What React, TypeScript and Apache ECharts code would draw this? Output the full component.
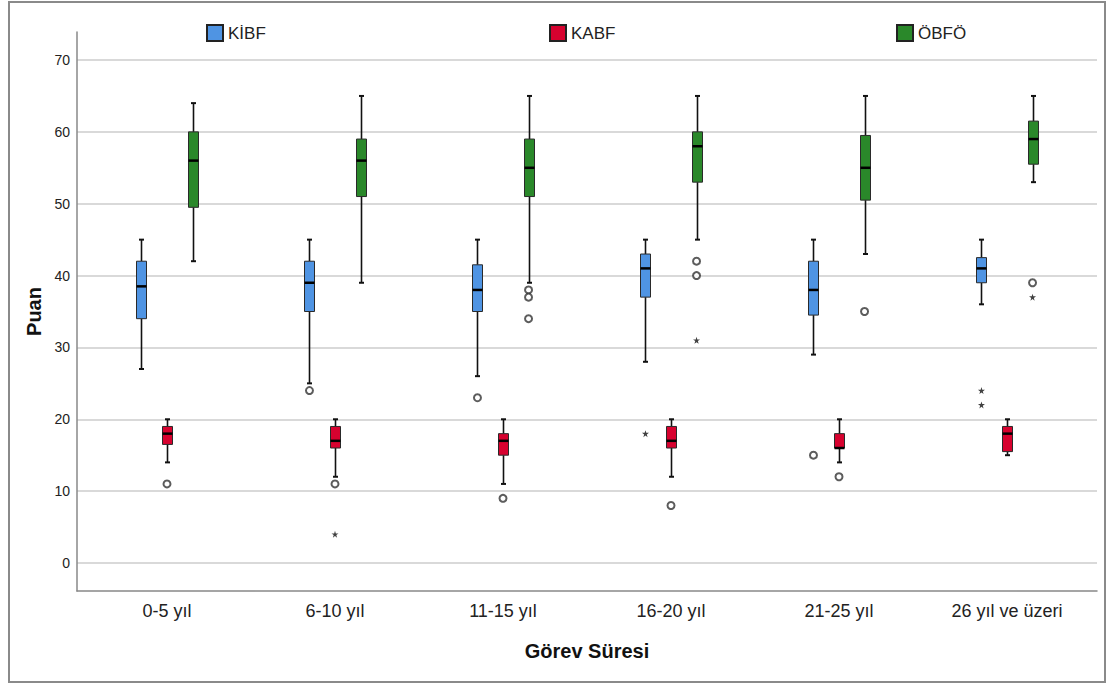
import React, { useEffect, useRef } from "react";
import * as echarts from "echarts";

const categories = ["0-5 yıl", "6-10 yıl", "11-15 yıl", "16-20 yıl", "21-25 yıl", "26 yıl ve üzeri"];
const yTicks = [0, 10, 20, 30, 40, 50, 60, 70];
const seriesNames = ["KİBF", "KABF", "ÖBFÖ"];
const seriesColors = ["#4f94e3", "#d7022f", "#2a882a"];

// [category index, min, q1, median, q3, max]
const kibfBoxes = [
  [0, 27, 34, 38.5, 42, 45],
  [1, 25, 35, 39, 42, 45],
  [2, 26, 35, 38, 41.5, 45],
  [3, 28, 37, 41, 43, 45],
  [4, 29, 34.5, 38, 42, 45],
  [5, 36, 39, 41, 42.5, 45],
];
const kabfBoxes = [
  [0, 14, 16.5, 18, 19, 20],
  [1, 12, 16, 17, 19, 20],
  [2, 11, 15, 17, 18, 20],
  [3, 12, 16, 17, 19, 20],
  [4, 14, 16, 16, 18, 20],
  [5, 15, 15.5, 18, 19, 20],
];
const obfoBoxes = [
  [0, 42, 49.5, 56, 60, 64],
  [1, 39, 51, 56, 59, 65],
  [2, 39, 51, 55, 59, 65],
  [3, 45, 53, 58, 60, 65],
  [4, 43, 50.5, 55, 59.5, 65],
  [5, 53, 55.5, 59, 61.5, 65],
];

// [category index, value]
const kibfOutliers = [[1, 24], [2, 23], [4, 15]];
const kibfExtremes = [[3, 18], [5, 24], [5, 22]];
const kabfOutliers = [[0, 11], [1, 11], [2, 9], [3, 8], [4, 12]];
const kabfExtremes = [[1, 4]];
const obfoOutliers = [[2, 38], [2, 37], [2, 34], [3, 42], [3, 40], [4, 35], [5, 39]];
const obfoExtremes = [[3, 31], [5, 37]];

const boxSets = [kibfBoxes, kabfBoxes, obfoBoxes];
const outlierSets = [kibfOutliers, kabfOutliers, obfoOutliers];
const extremeSets = [kibfExtremes, kabfExtremes, obfoExtremes];

const groupOffsets = [-0.152, 0, 0.152];
const legendLefts = [206, 549, 896];

const STAR = "path://M50,0 L61,35 L98,35 L68,57 L79,91 L50,70 L21,91 L32,57 L2,35 L39,35 Z";

export default function App() {
  const ref = useRef<HTMLDivElement>(null);

  useEffect(() => {
    if (!ref.current) return;
    const chart = echarts.init(ref.current, undefined, { renderer: "svg" });

    const boxSeries = boxSets.map((set, gi) => ({
      name: seriesNames[gi],
      type: "custom",
      itemStyle: { color: seriesColors[gi], borderColor: "#222", borderWidth: 1 },
      encode: { x: 0, y: [1, 2, 3, 4, 5] },
      data: set,
      z: 3,
      renderItem: (params: any, api: any) => {
        const x = api.value(0) + groupOffsets[gi];
        const pMin = api.coord([x, api.value(1)]);
        const pQ1 = api.coord([x, api.value(2)]);
        const pMed = api.coord([x, api.value(3)]);
        const pQ3 = api.coord([x, api.value(4)]);
        const pMax = api.coord([x, api.value(5)]);
        const cx = Math.round(pMed[0]) + 0.5;
        const hw = 5;
        const cap = 2.5;
        const wStyle = { stroke: "#111", lineWidth: 1.6 };
        return {
          type: "group",
          children: [
            { type: "line", shape: { x1: cx, y1: pMax[1], x2: cx, y2: pQ3[1] }, style: wStyle },
            { type: "line", shape: { x1: cx, y1: pQ1[1], x2: cx, y2: pMin[1] }, style: wStyle },
            { type: "line", shape: { x1: cx - cap, y1: pMax[1], x2: cx + cap, y2: pMax[1] }, style: { stroke: "#111", lineWidth: 2 } },
            { type: "line", shape: { x1: cx - cap, y1: pMin[1], x2: cx + cap, y2: pMin[1] }, style: { stroke: "#111", lineWidth: 2 } },
            {
              type: "rect",
              shape: { x: cx - hw, y: pQ3[1], width: hw * 2, height: pQ1[1] - pQ3[1] },
              style: { fill: seriesColors[gi], stroke: "#2a2a2a", lineWidth: 1 },
            },
            { type: "line", shape: { x1: cx - hw, y1: pMed[1], x2: cx + hw, y2: pMed[1] }, style: { stroke: "#000", lineWidth: 2.5 } },
          ],
        };
      },
    }));

    const outlierSeries = outlierSets.map((set, gi) => ({
      name: seriesNames[gi] + " aykırı",
      type: "scatter",
      symbol: "emptyCircle",
      symbolSize: 7,
      itemStyle: { color: "#333", borderColor: "#333", borderWidth: 1.4 },
      data: set.map((d) => [d[0] + groupOffsets[gi], d[1]]),
      z: 4,
    }));

    const extremeSeries = extremeSets.map((set, gi) => ({
      name: seriesNames[gi] + " uç",
      type: "scatter",
      symbol: STAR,
      symbolSize: 7,
      itemStyle: { color: "#111" },
      data: set.map((d) => [d[0] + groupOffsets[gi], d[1]]),
      z: 4,
    }));

    chart.setOption({
      animation: false,
      backgroundColor: "#ffffff",
      textStyle: { fontFamily: "Liberation Sans, Arial, sans-serif" },
      legend: seriesNames.map((n, i) => ({
        data: [{ name: n, icon: "rect" }],
        left: legendLefts[i],
        top: 24,
        padding: 0,
        itemWidth: 16,
        itemHeight: 16,
        selectedMode: false,
        textStyle: { fontSize: 17, color: "#222", fontFamily: "Liberation Sans, Arial, sans-serif" },
      })),
      grid: { left: 77, right: 10, top: 32, bottom: 93 },
      xAxis: {
        type: "value",
        min: -0.5357,
        max: 5.5357,
        name: "Görev Süresi",
        nameLocation: "middle",
        nameGap: 50,
        nameTextStyle: { fontSize: 20, fontWeight: "bold", color: "#111" },
        axisLine: { onZero: false, lineStyle: { color: "#888", width: 1.5 } },
        axisTick: { show: false },
        splitLine: { show: false },
        axisLabel: {
          customValues: categories.map((_, i) => i),
          formatter: (v: number) => categories[Math.round(v)] ?? "",
          fontSize: 18,
          color: "#222",
          margin: 11,
        },
      },
      yAxis: {
        type: "value",
        min: -3.9,
        max: 73.9,
        name: "Puan",
        nameLocation: "middle",
        nameGap: 33,
        nameTextStyle: { fontSize: 20, fontWeight: "bold", color: "#111" },
        axisLine: { show: true, onZero: false, lineStyle: { color: "#888", width: 1.5 } },
        axisTick: { show: false, customValues: yTicks },
        splitLine: { show: true, lineStyle: { color: "#cccccc", width: 1.5 } },
        axisLabel: { customValues: yTicks, fontSize: 14, color: "#222", margin: 7 },
      },
      graphic: [
        {
          type: "rect",
          shape: { x: 9, y: 2, width: 1096, height: 680 },
          style: { fill: "none", stroke: "#8a8a8a", lineWidth: 2 },
          silent: true,
        },
      ],
      series: [...boxSeries, ...outlierSeries, ...extremeSeries],
    });

    return () => chart.dispose();
  }, []);

  return (
    <div
      ref={ref}
      style={{ position: "absolute", left: 0, top: 0, width: 1107, height: 684 }}
    />
  );
}
